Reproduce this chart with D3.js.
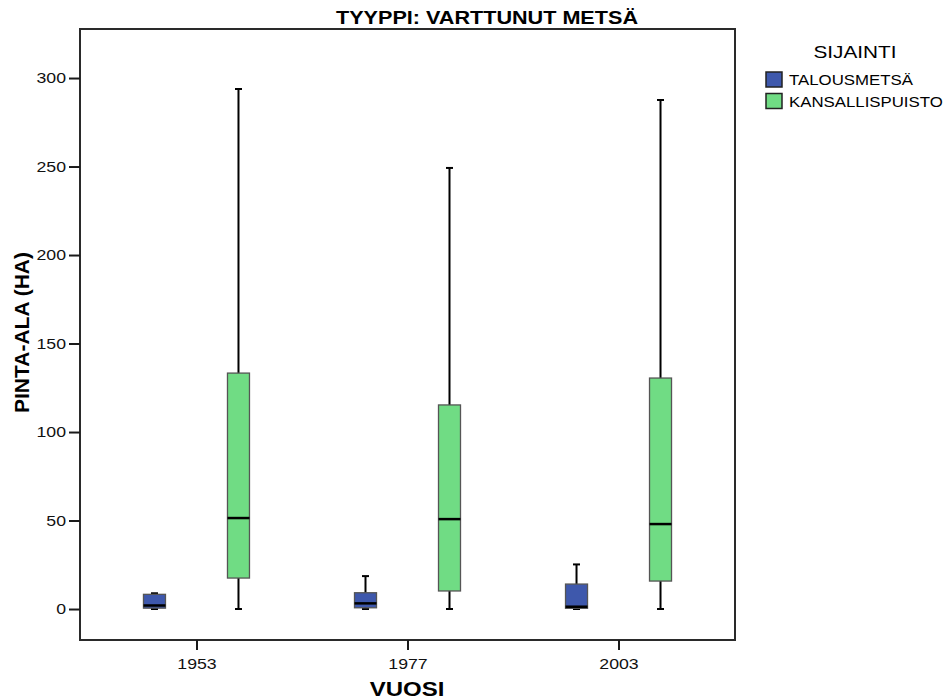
<!DOCTYPE html>
<html>
<head>
<meta charset="utf-8">
<script src="https://cdn.jsdelivr.net/npm/d3@7"></script>
<style>
  body { margin: 0; background: #fff; }
  svg { display: block; font-family: "Liberation Sans", Arial, sans-serif; }
</style>
</head>
<body>
<div id="container"></div>
<script>
// Box plot - TYYPPI: VARTTUNUT METSÄ

//_____ DATA _____
const years = [ '1953', '1977', '2003' ];
const seriesNames = [ 'TALOUSMETSÄ', 'KANSALLISPUISTO' ];
const seriesColors = [ '#3e58ac', '#70dc84' ];

// TALOUSMETSÄ
const taloMin = [ 0, 0, 0 ];
const taloQ1 = [ 0.5, 0.7, 0.4 ];
const taloMedian = [ 2.0, 3.2, 1.3 ];
const taloQ3 = [ 8.3, 9.2, 14.1 ];
const taloMax = [ 8.9, 18.6, 25.2 ];

// KANSALLISPUISTO
const kansaMin = [ 0, 0, 0 ];
const kansaQ1 = [ 17.5, 10.2, 15.8 ];
const kansaMedian = [ 51.4, 50.8, 48.0 ];
const kansaQ3 = [ 133.3, 115.3, 130.5 ];
const kansaMax = [ 293.8, 249.2, 287.6 ];

const yTicks = [ 0, 50, 100, 150, 200, 250, 300 ];

//_____ STRUCTURE THE DATA _____
const boxes = [];
years.forEach( ( year, i ) => {
  boxes.push( { year, series: seriesNames[ 0 ], color: seriesColors[ 0 ],
    min: taloMin[ i ], q1: taloQ1[ i ], median: taloMedian[ i ], q3: taloQ3[ i ], max: taloMax[ i ] } );
  boxes.push( { year, series: seriesNames[ 1 ], color: seriesColors[ 1 ],
    min: kansaMin[ i ], q1: kansaQ1[ i ], median: kansaMedian[ i ], q3: kansaQ3[ i ], max: kansaMax[ i ] } );
} );

//_____ VARIABLES _____
const W = 951, H = 700;
const plot = { left: 80, right: 735, top: 29, bottom: 640 };

const svg = d3.select( '#container' )
  .append( 'svg' )
  .attr( 'width', W )
  .attr( 'height', H );

//>>> The original text is drawn a bit wider than the font; stretch it
function widen ( selection, k ) {
  selection.each( function () {
    const w = this.getComputedTextLength();
    d3.select( this )
      .attr( 'textLength', w * k )
      .attr( 'lengthAdjust', 'spacingAndGlyphs' );
  } );
}

//_____ SCALES _____
const xScale = d3.scalePoint()
  .domain( years )
  .range( [ plot.left, plot.right ] )
  .padding( 0.552 );

const offset = d3.scaleBand()
  .domain( seriesNames )
  .range( [ -84, 84 ] );

const boxWidth = 22;
const capWidth = 7;

const yScale = d3.scaleLinear()
  .domain( [ -17.5, 327.7 ] )
  .range( [ plot.bottom, plot.top ] );

//_____ FRAME _____
svg.append( 'rect' )
  .attr( 'x', plot.left )
  .attr( 'y', plot.top )
  .attr( 'width', plot.right - plot.left )
  .attr( 'height', plot.bottom - plot.top )
  .attr( 'fill', 'none' )
  .attr( 'stroke', '#2a2a2a' )
  .attr( 'stroke-width', 2 );

//_____ AXES _____
const xAxis = d3.axisBottom( xScale ).tickSize( 10 ).tickSizeOuter( 0 );
const yAxis = d3.axisLeft( yScale ).tickValues( yTicks ).tickSize( 11 ).tickSizeOuter( 0 );

const gx = svg.append( 'g' )
  .attr( 'id', 'x-axis' )
  .attr( 'transform', `translate(0, ${plot.bottom})` )
  .call( xAxis );

const gy = svg.append( 'g' )
  .attr( 'id', 'y-axis' )
  .attr( 'transform', `translate(${plot.left}, 0)` )
  .call( yAxis );

[ gx, gy ].forEach( g => {
  g.select( '.domain' ).remove();
  g.selectAll( '.tick line' ).attr( 'stroke', '#1a1a1a' ).attr( 'stroke-width', 2 );
  g.selectAll( '.tick text' )
    .style( 'font-size', '15px' )
    .style( 'font-family', '"Liberation Sans", Arial, sans-serif' )
    .attr( 'fill', '#111' )
    .call( widen, 1.18 );
} );
gx.selectAll( '.tick text' ).attr( 'dy', '1.05em' );
gy.selectAll( '.tick text' ).attr( 'x', -14 );

//_____ BOXES _____
const groups = svg.selectAll( '.box' )
  .data( boxes )
  .enter()
  .append( 'g' )
  .attr( 'class', 'box' )
  .attr( 'transform', d => `translate(${xScale( d.year ) + offset( d.series ) + offset.bandwidth() / 2}, 0)` );

// whisker
groups.append( 'line' )
  .attr( 'x1', 0 ).attr( 'x2', 0 )
  .attr( 'y1', d => yScale( d.min ) )
  .attr( 'y2', d => yScale( d.max ) )
  .attr( 'stroke', '#000' )
  .attr( 'stroke-width', 2 );

// caps
groups.selectAll( '.cap' )
  .data( d => [ d.min, d.max ] )
  .enter()
  .append( 'line' )
  .attr( 'class', 'cap' )
  .attr( 'x1', -capWidth / 2 ).attr( 'x2', capWidth / 2 )
  .attr( 'y1', v => yScale( v ) )
  .attr( 'y2', v => yScale( v ) )
  .attr( 'stroke', '#000' )
  .attr( 'stroke-width', 2 );

// box
groups.append( 'rect' )
  .attr( 'x', -boxWidth / 2 )
  .attr( 'width', boxWidth )
  .attr( 'y', d => yScale( d.q3 ) )
  .attr( 'height', d => yScale( d.q1 ) - yScale( d.q3 ) )
  .attr( 'fill', d => d.color )
  .attr( 'stroke', '#555' )
  .attr( 'stroke-width', 1.3 );

// median
groups.append( 'line' )
  .attr( 'x1', -boxWidth / 2 ).attr( 'x2', boxWidth / 2 )
  .attr( 'y1', d => yScale( d.median ) )
  .attr( 'y2', d => yScale( d.median ) )
  .attr( 'stroke', '#000' )
  .attr( 'stroke-width', 2.5 );

//_____ TITLES _____
svg.append( 'text' )
  .attr( 'x', 487 )
  .attr( 'y', 24 )
  .attr( 'text-anchor', 'middle' )
  .style( 'font-size', '18px' )
  .style( 'font-weight', 'bold' )
  .text( 'TYYPPI: VARTTUNUT METSÄ' )
  .call( widen, 1.2 );

svg.append( 'text' )
  .attr( 'x', 407 )
  .attr( 'y', 696 )
  .attr( 'text-anchor', 'middle' )
  .style( 'font-size', '20px' )
  .style( 'font-weight', 'bold' )
  .text( 'VUOSI' )
  .call( widen, 1.2 );

svg.append( 'text' )
  .attr( 'transform', `translate(29, ${( plot.top + plot.bottom ) / 2 - 2}) rotate(-90)` )
  .attr( 'text-anchor', 'middle' )
  .style( 'font-size', '21px' )
  .style( 'font-weight', 'bold' )
  .text( 'PINTA-ALA (HA)' );

//_____ LEGEND _____
svg.append( 'text' )
  .attr( 'x', 855 )
  .attr( 'y', 58 )
  .attr( 'text-anchor', 'middle' )
  .style( 'font-size', '17px' )
  .text( 'SIJAINTI' )
  .call( widen, 1.22 );

const legend = svg.append( 'g' )
  .attr( 'transform', 'translate(766, 72)' );

seriesNames.forEach( ( name, i ) => {
  legend.append( 'rect' )
    .attr( 'x', 0 )
    .attr( 'y', i * 21.5 )
    .attr( 'width', 16 )
    .attr( 'height', 15 )
    .attr( 'fill', seriesColors[ i ] )
    .attr( 'stroke', '#222' )
    .attr( 'stroke-width', 1.5 );

  legend.append( 'text' )
    .attr( 'x', 23 )
    .attr( 'y', i * 21.5 + 13 )
    .style( 'font-size', '14px' )
    .text( name )
    .call( widen, 1.2 );
} );
</script>
</body>
</html>
